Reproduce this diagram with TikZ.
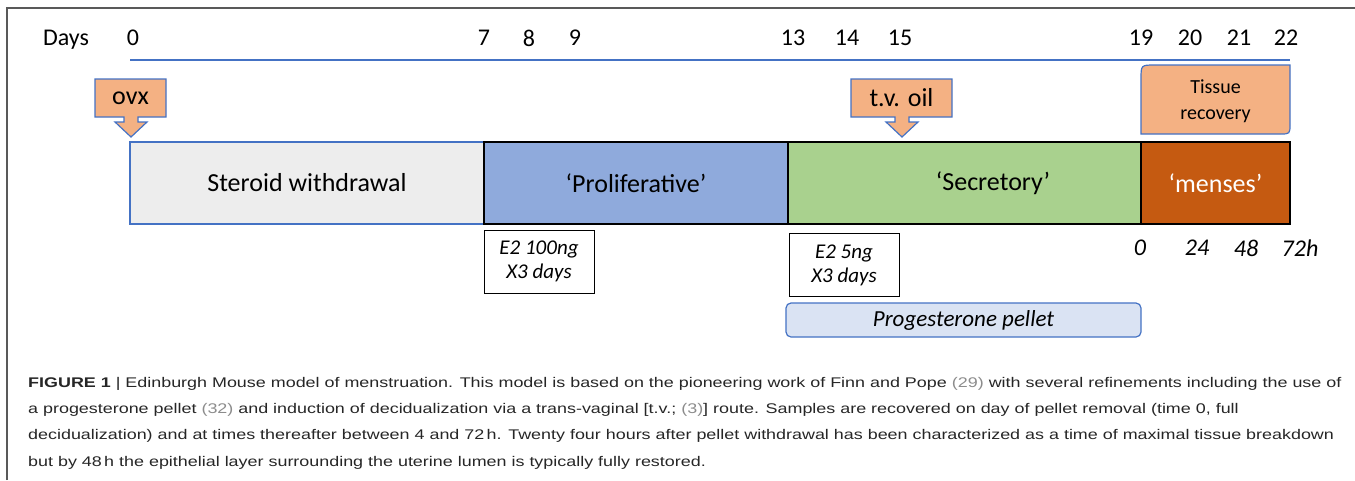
\documentclass[tikz,border=0pt]{standalone}
\usepackage{fontspec}
\setmainfont{Carlito}
\newfontfamily\capfont[FakeStretch=1.28]{Liberation Sans}
\usetikzlibrary{positioning}

\definecolor{tlblue}{HTML}{4472C4}
\definecolor{steroidgray}{HTML}{EDEDED}
\definecolor{prolifblue}{HTML}{8FAADC}
\definecolor{secretgreen}{HTML}{A9D18E}
\definecolor{mensesorange}{HTML}{C55A11}
\definecolor{calloutorange}{HTML}{F4B183}
\definecolor{pelletblue}{HTML}{DAE3F3}
\definecolor{framegray}{HTML}{595959}
\definecolor{citegray}{HTML}{8C8C8C}

\tikzset{
  phase/.style={draw, line width=1.2pt, minimum height=82pt, inner sep=0pt, outer sep=0pt, font=\fontsize{26}{30}\selectfont},
  callout/.style={draw=tlblue, fill=calloutorange, line width=1.2pt},
  dosebox/.style={draw, line width=1pt, fill=white, minimum width=110pt, minimum height=63pt, align=center, font=\itshape\fontsize{21}{24}\selectfont},
  daylabel/.style={font=\fontsize{24}{28}\selectfont, inner sep=0pt},
  hourlabel/.style={font=\itshape\fontsize{24}{28}\selectfont, inner sep=0pt},
}

\begin{document}
\begin{tikzpicture}[x=1pt, y=-1pt]
    \useasboundingbox (0,0) rectangle (1355,480);
    % Frame
    \draw[framegray, line width=1.2pt] (7,480) -- (7,8) -- (1355,8);

    % Day axis
    \node[daylabel] (days) at (66,40) {Days};
    \foreach \d/\x in {0/133, 7/484, 8/529, 9/575, 13/793, 14/847, 15/900, 19/1141, 20/1190, 21/1239, 22/1286}
        \node[daylabel] (d\d) at (\x,38) {\d};
    \coordinate (axisstart) at (130,60);
    \coordinate (axisend) at (1290,60);
    \draw[tlblue, line width=1.5pt] (axisstart) -- (axisend);

    % Phases
    \node[phase, draw=tlblue, fill=steroidgray, minimum width=354pt] (steroid) at (307,183) {Steroid withdrawal};
    \node[phase, fill=prolifblue, minimum width=304pt, right=0pt of steroid] (prolif) {‘Proliferative’};
    \node[phase, fill=secretgreen, minimum width=353pt, right=0pt of prolif] (secret) {};
    \node[phase, fill=mensesorange, text=white, minimum width=149pt, right=0pt of secret] (menses) {‘menses’};
    \node[font=\fontsize{26}{30}\selectfont] (secrettxt) at (993,183) {‘Secretory’};

    % Callouts
    \foreach \name/\l/\r/\t/\txt in {ovx/95/166/131/ovx, tvoil/851/952/902/t.v. oil} {
        \draw[callout] (\l,79) -- (\r,79) -- (\r,117) -- ({\t+7},117) -- ({\t+7},122) -- ({\t+16},122) -- (\t,137)
            -- ({\t-16},122) -- ({\t-7},122) -- ({\t-7},117) -- (\l,117) -- cycle;
        \node[inner sep=0pt, font=\fontsize{26}{30}\selectfont] (\name) at ({(\l+\r)/2},98) {\txt};
    }
    \draw[callout] (1141,134) -- (1141,79) .. controls (1141,65) .. (1155,65) -- (1290,65) -- (1290,124)
        .. controls (1290,134) .. (1280,134) -- cycle;
    \node[align=center, font=\fontsize{20}{26}\selectfont] (tissue) at (1215.5,101) {Tissue\\recovery};

    % Doses
    \node[dosebox] (e2high) at (539,261.5) {E2 100ng\\X3 days};
    \node[dosebox] (e2low) at (844,265) {E2 5ng\\X3 days};
    \node[draw=tlblue, fill=pelletblue, line width=1.2pt, rounded corners=5pt, minimum width=355pt, minimum height=34pt,
        font=\itshape\fontsize{23}{27}\selectfont] (pellet) at (963.5,320) {Progesterone pellet};

    % Hours
    \foreach \h/\x in {0/1140, 24/1197, 48/1246, 72h/1300}
        \node[hourlabel] (h\h) at (\x,248) {\h};

    % Caption
    \node[anchor=north west, inner sep=0pt, align=left, text=black!85, font=\capfont\fontsize{14}{26.3}\selectfont] (caption) at (28,377) {%
        \textbf{FIGURE 1} | Edinburgh Mouse model of menstruation. This model is based on the pioneering work of Finn and Pope {\color{citegray}(29)} with several refinements including the use of\\
        a progesterone pellet {\color{citegray}(32)} and induction of decidualization via a trans-vaginal [t.v.; {\color{citegray}(3)}] route. Samples are recovered on day of pellet removal (time 0, full\\
        decidualization) and at times thereafter between 4 and 72\,h. Twenty four hours after pellet withdrawal has been characterized as a time of maximal tissue breakdown\\
        but by 48\,h the epithelial layer surrounding the uterine lumen is typically fully restored.};
\end{tikzpicture}
\end{document}
